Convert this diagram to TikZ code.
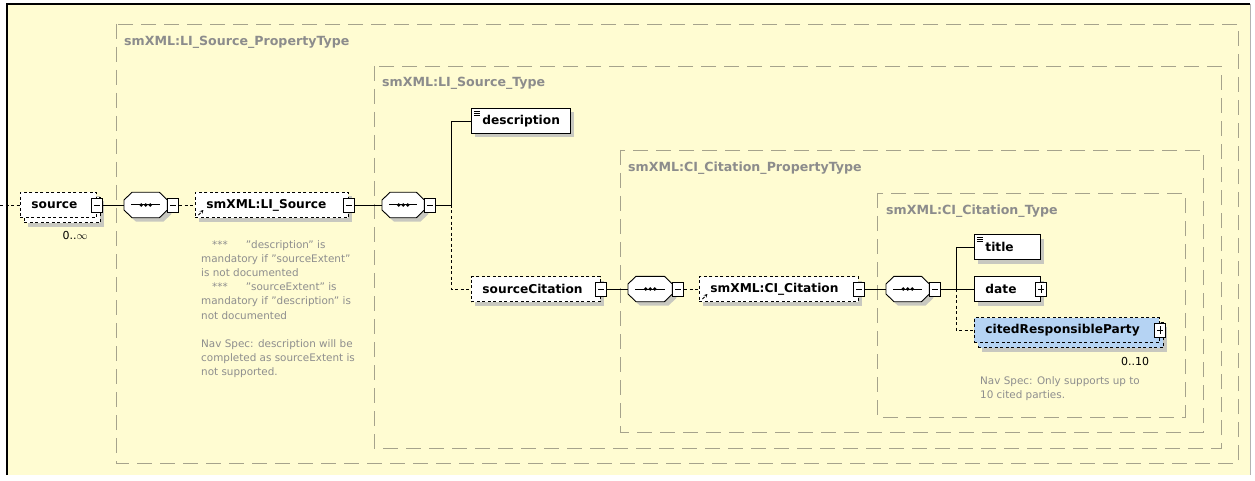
\documentclass[tikz,border=0pt]{standalone}
\usepackage{fontspec}
\setmainfont{DejaVu Sans}
\usetikzlibrary{arrows.meta}
\definecolor{paneYellow}{HTML}{FFFCD2}
\definecolor{groupLine} {HTML}{A6A38C}
\definecolor{groupText} {HTML}{8C8C8C}
\definecolor{noteGray}  {HTML}{8E8E8E}
\definecolor{shadeGray} {HTML}{C8C8C0}
\definecolor{partyBlue} {HTML}{B5D3F3}
\tikzset{
  wire/.style={draw=black,line width=0.9pt},
  optwire/.style={wire,dash pattern=on 3pt off 2.5pt},
  grp/.style={draw=groupLine,line width=0.9pt,dash pattern=on 15pt off 8pt},
  grplabel/.style={anchor=west,inner sep=0pt,text=groupText,font=\bfseries\fontsize{12.6}{14}\selectfont},
  note/.style={anchor=north west,inner sep=0pt,align=left,text=noteGray,font=\fontsize{10.4}{14.2}\selectfont},
  card/.style={inner sep=0pt,font=\fontsize{11}{13}\selectfont},
  elem/.style={rectangle,draw=black,line width=0.9pt,fill=white,anchor=west,
    minimum height=25pt,inner xsep=11pt,inner ysep=0pt,align=left,
    font=\bfseries\fontsize{12.2}{14}\selectfont,
    preaction={fill=shadeGray,draw=none,transform canvas={shift={(4pt,-4pt)}}}},
  opt/.style={elem,dash pattern=on 3pt off 2.5pt},
  multi/.style={opt,
    preaction={fill=shadeGray,draw=none,transform canvas={shift={(8pt,-9pt)}}},
    preaction={fill=#1,draw=black,line width=0.9pt,dash pattern=on 3pt off 2.5pt,
      transform canvas={shift={(4pt,-5pt)}}}},
  refmark/.style={path picture={\draw[line width=0.9pt,-{Stealth[length=3.5pt,width=3.5pt]}]
      ([shift={(3pt,2.5pt)}]path picture bounding box.south west) -- ++(5pt,5pt);}},
  docmark/.style={path picture={\foreach \dy in {3,5,7}
      \draw[line width=0.8pt] ([shift={(2.5pt,-\dy pt)}]path picture bounding box.north west) -- ++(6.5pt,0pt);}},
  tog/.style={rectangle,draw=black,line width=0.8pt,fill=white,minimum width=11pt,
    minimum height=14pt,inner sep=0pt,
    path picture={\draw[line width=0.8pt] ([xshift=2.5pt]path picture bounding box.west)
      -- ([xshift=-2.5pt]path picture bounding box.east);}},
  plustog/.style={tog,
    path picture={\draw[line width=0.8pt] ([xshift=2.5pt]path picture bounding box.west)
      -- ([xshift=-2.5pt]path picture bounding box.east)
      ([yshift=-3pt]path picture bounding box.north) -- ([yshift=3pt]path picture bounding box.south);}},
  seq/.style={rectangle,minimum width=43pt,minimum height=25pt,inner sep=0pt,anchor=west},
  octo/.style={insert path={([yshift=5pt]#1.west) -- ([xshift=8pt]#1.north west)
      -- ([xshift=-8pt]#1.north east) -- ([yshift=5pt]#1.east) -- ([yshift=-5pt]#1.east)
      -- ([xshift=-8pt]#1.south east) -- ([xshift=8pt]#1.south west) -- ([yshift=-5pt]#1.west) -- cycle}},
}

\begin{document}
\begin{tikzpicture}[x=1pt,y=-1pt]

\useasboundingbox (0,0) rectangle (1255,481);
\fill[white] (0,0) rectangle (1255,481);
\fill[paneYellow] (7,4) rectangle (1250,475);
\draw[black,line width=2pt] (7,475) -- (7,4) -- (1250,4);
\draw[black!30,line width=1pt] (1250,4) -- (1250,475);

\draw[grp] (116,24) rectangle (1238,463);
\draw[grp] (374,66) rectangle (1221,448);
\draw[grp] (620,150) rectangle (1203,432);
\draw[grp] (877,193) rectangle (1185,417);

\node[grplabel] (lblA) at (124,42) {smXML:LI\_Source\_PropertyType};
\node[grplabel] (lblB) at (382,83) {smXML:LI\_Source\_Type};
\node[grplabel] (lblC) at (628,168) {smXML:CI\_Citation\_PropertyType};
\node[grplabel] (lblD) at (886,211) {smXML:CI\_Citation\_Type};

\node[seq] (seqA) at (124,205) {};
\node[seq,minimum width=42pt] (seqB) at (382,205) {};
\node[seq,minimum width=44pt] (seqC) at (628,289) {};
\node[seq] (seqD) at (886,289) {};
\foreach \s in {seqA,seqB,seqC,seqD}{
  \fill[shadeGray,transform canvas={shift={(4pt,-4pt)}},octo=\s];
  \draw[line width=0.9pt,fill=white,octo=\s];
  \draw[line width=1pt] ([xshift=7pt]\s.west) -- ([xshift=-7pt]\s.east);
  \foreach \dx in {-4.5,0,4.5}
    \fill ([xshift=\dx pt]\s.center) circle (1.9pt);
}

\coordinate (inL) at (0,205);
\node[multi=white,text width=54pt] (source) at (20,205) {source};
\node[tog] (srcM) at (source.east) {};
\node[card] (srcCard) at (75,235) {0..$\infty$};
\node[tog,anchor=west] (seqAM) at (seqA.east) {};

\node[opt,refmark,text width=131pt] (liSrc) at (195,205) {smXML:LI\_Source};
\node[tog] (liM) at (liSrc.east) {};

\node[note] (srcNote) at (201,240) {\hspace*{11pt}***\hspace*{18pt}"description" is\\
  mandatory if "sourceExtent"\\is not documented\\
  \hspace*{11pt}***\hspace*{18pt}"sourceExtent" is\\
  mandatory if "description" is\\not documented\\[14.2pt]
  Nav Spec: description will be\\completed as sourceExtent is\\not supported.};

\node[tog,anchor=west] (seqBM) at (seqB.east) {};
\coordinate (brB) at (451,205);

\node[elem,docmark,text width=77pt] (descr) at (471,121) {description};
\node[opt,text width=107pt] (srcCit) at (471,289) {sourceCitation};
\node[tog] (scM) at (srcCit.east) {};

\node[tog,anchor=west] (seqCM) at (seqC.east) {};

\node[opt,refmark,text width=137pt] (ciCit) at (699,289) {smXML:CI\_Citation};
\node[tog] (ciM) at (ciCit.east) {};

\node[tog,anchor=west] (seqDM) at (seqD.east) {};
\coordinate (brD) at (956,289);

\node[elem,docmark,text width=44pt] (titleEl) at (974,247) {title};
\node[elem,text width=44pt] (dateEl) at (974,289) {date};
\node[plustog] (dateP) at (dateEl.east) {};
\node[multi=partyBlue,fill=partyBlue,text width=163pt] (party) at (974,330) {citedResponsibleParty};
\node[plustog] (partyP) at (party.east) {};
\node[card] (partyCard) at (1135,361) {0..10};
\node[note] (partyNote) at (980,376) {Nav Spec: Only supports up to\\10 cited parties.};

\draw[optwire] (inL) -- (source.west);
\draw[wire] (srcM.east) -- (seqA.west);
\draw[optwire] (seqAM.east) -- (liSrc.west);
\draw[wire] (liM.east) -- (seqB.west);
\draw[wire] (seqBM.east) -- (brB);
\draw[wire] (brB) |- (descr.west);
\draw[optwire] (brB) |- (srcCit.west);
\draw[wire] (scM.east) -- (seqC.west);
\draw[optwire] (seqCM.east) -- (ciCit.west);
\draw[wire] (ciM.east) -- (seqD.west);
\draw[wire] (seqDM.east) -- (brD);
\draw[wire] (brD) |- (titleEl.west);
\draw[wire] (brD) -- (dateEl.west);
\draw[optwire] (brD) |- (party.west);

\end{tikzpicture}
\end{document}
